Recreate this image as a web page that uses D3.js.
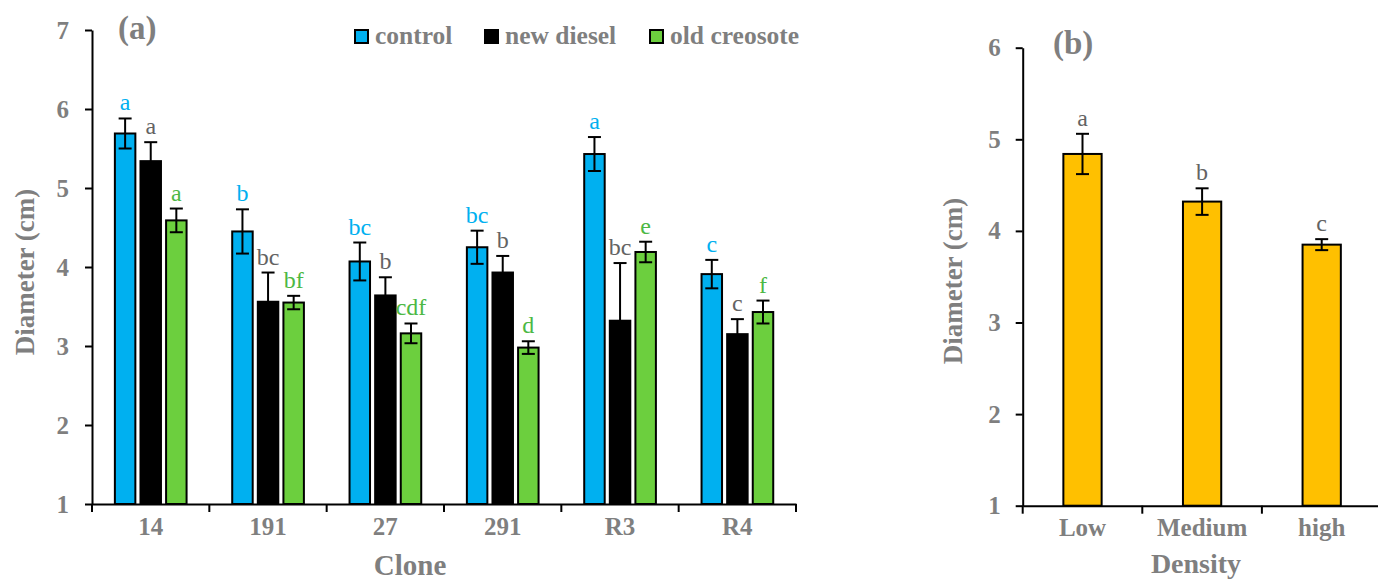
<!DOCTYPE html>
<html>
<head>
<meta charset="utf-8">
<script src="https://cdn.jsdelivr.net/npm/d3@7"></script>
<style>
  html, body { margin: 0; padding: 0; background: #fff; }
  svg { display: block; }
  text { font-family: "Liberation Serif", "Times New Roman", serif; }
</style>
</head>
<body>
<svg id="chart" width="1378" height="580"></svg>
<script>
// Panel (a): stem diameter by clone and treatment
const clones = ["14", "191", "27", "291", "R3", "R4"];
const treatments = ["control", "new diesel", "old creosote"];
const controlMean = [5.69, 4.45, 4.07, 4.25, 5.43, 3.91];
const controlErr = [0.19, 0.28, 0.24, 0.21, 0.215, 0.18];
const controlLetters = ["a", "b", "bc", "bc", "a", "c"];
const dieselMean = [5.34, 3.56, 3.64, 3.93, 3.32, 3.15];
const dieselErr = [0.24, 0.37, 0.23, 0.21, 0.73, 0.19];
const dieselLetters = ["a", "bc", "b", "b", "bc", "c"];
const creosoteMean = [4.59, 3.55, 3.16, 2.98, 4.19, 3.43];
const creosoteErr = [0.15, 0.085, 0.125, 0.08, 0.13, 0.145];
const creosoteLetters = ["a", "bf", "cdf", "d", "e", "f"];
const yTicksA = [1, 2, 3, 4, 5, 6, 7];

// Panel (b): stem diameter by planting density
const densities = ["Low", "Medium", "high"];
const densityMean = [4.84, 4.32, 3.85];
const densityErr = [0.22, 0.145, 0.06];
const densityLetters = ["a", "b", "c"];
const yTicksB = [1, 2, 3, 4, 5, 6];

const svg = d3.select("#chart");
const GREY = "#7f7f7f";
const fills = { "control": "#00b0f0", "new diesel": "#000000", "old creosote": "#6ccf3e" };
const letterColors = { "control": "#00b0f0", "new diesel": "#636363", "old creosote": "#4cb844" };

const series = [
  { key: "control", mean: controlMean, err: controlErr, letters: controlLetters },
  { key: "new diesel", mean: dieselMean, err: dieselErr, letters: dieselLetters },
  { key: "old creosote", mean: creosoteMean, err: creosoteErr, letters: creosoteLetters }
];

function styleAxis(g) {
  g.selectAll(".domain, .tick line").attr("stroke", "#000").attr("stroke-width", 2);
  g.selectAll("text")
    .attr("fill", GREY)
    .attr("font-weight", "bold")
    .attr("font-size", 25)
    .style("font-family", "'Liberation Serif', serif");
}

function errorBar(g, cx, yTop, yBot, cap) {
  g.append("line").attr("x1", cx).attr("x2", cx).attr("y1", yTop).attr("y2", yBot)
    .attr("stroke", "#000").attr("stroke-width", 2);
  [yTop, yBot].forEach(y => {
    g.append("line").attr("x1", cx - cap / 2).attr("x2", cx + cap / 2).attr("y1", y).attr("y2", y)
      .attr("stroke", "#000").attr("stroke-width", 2);
  });
}

// ---------- Panel (a) ----------
const xA = d3.scaleBand().domain(clones).range([92, 796]).padding(0);
const yA = d3.scaleLinear().domain([1, 7]).range([504, 30]);
const inner = d3.scaleBand().domain(treatments)
  .range([xA.bandwidth() * 0.195, xA.bandwidth() * 0.806])
  .paddingInner(0.2).paddingOuter(0);

const gA = svg.append("g");

series.forEach(s => {
  const g = gA.append("g");
  clones.forEach((c, i) => {
    const x0 = xA(c) + inner(s.key);
    const w = inner.bandwidth();
    g.append("rect")
      .attr("x", x0).attr("y", yA(s.mean[i]))
      .attr("width", w).attr("height", yA(1) - yA(s.mean[i]))
      .attr("fill", fills[s.key]).attr("stroke", "#000").attr("stroke-width", 2);
    const yTop = yA(s.mean[i] + s.err[i]);
    errorBar(g, x0 + w / 2, yTop, yA(s.mean[i] - s.err[i]), 13);
    g.append("text")
      .attr("x", x0 + w / 2).attr("y", yTop - 8)
      .attr("text-anchor", "middle")
      .attr("font-size", 24)
      .attr("fill", letterColors[s.key])
      .text(s.letters[i]);
  });
});

// y axis
const axA = gA.append("g").attr("transform", "translate(92,0)")
  .call(d3.axisLeft(yA).tickValues(yTicksA).tickFormat(d3.format("d")).tickSize(7).tickSizeOuter(0).tickPadding(16));
styleAxis(axA);

// x axis with ticks at category boundaries
const axXA = gA.append("g").attr("transform", "translate(0,504)")
  .call(d3.axisBottom(xA).tickSize(0).tickSizeOuter(0).tickPadding(31));
styleAxis(axXA);
axXA.selectAll("text").attr("dy", 0).attr("y", 31);
const boundsA = clones.map(c => xA(c)).concat([xA.range()[1]]);
axXA.selectAll(".bound").data(boundsA).join("line").attr("class", "bound")
  .attr("x1", d => d).attr("x2", d => d).attr("y1", 0).attr("y2", 8)
  .attr("stroke", "#000").attr("stroke-width", 2);

// titles
gA.append("text").attr("x", 118).attr("y", 39)
  .attr("font-size", 33).attr("font-weight", "bold").attr("fill", GREY).text("(a)");
gA.append("text").attr("transform", "translate(33.5,272) rotate(-90)")
  .attr("text-anchor", "middle").attr("font-size", 27).attr("font-weight", "bold")
  .attr("fill", GREY).text("Diameter (cm)");
gA.append("text").attr("x", 410).attr("y", 575).attr("text-anchor", "middle")
  .attr("font-size", 29).attr("font-weight", "bold").attr("fill", GREY).text("Clone");

// legend
const legendX = [355, 485, 650];
const legend = gA.append("g");
treatments.forEach((t, i) => {
  legend.append("rect").attr("x", legendX[i]).attr("y", 30).attr("width", 13).attr("height", 13)
    .attr("fill", fills[t]).attr("stroke", "#000").attr("stroke-width", 2);
  legend.append("text").attr("x", legendX[i] + 20).attr("y", 44)
    .attr("font-size", 25.5).attr("font-weight", "bold").attr("fill", GREY).text(t);
});

// ---------- Panel (b) ----------
const xB = d3.scaleBand().domain(densities).range([1022.7, 1381.5]).padding(0);
const yB = d3.scaleLinear().domain([1, 6]).range([505.7, 47.7]);
const gB = svg.append("g");

densities.forEach((d, i) => {
  const w = xB.bandwidth() * 0.32;
  const x0 = xB(d) + (xB.bandwidth() - w) / 2;
  gB.append("rect")
    .attr("x", x0).attr("y", yB(densityMean[i]))
    .attr("width", w).attr("height", yB(1) - yB(densityMean[i]))
    .attr("fill", "#ffc000").attr("stroke", "#000").attr("stroke-width", 2);
  const yTop = yB(densityMean[i] + densityErr[i]);
  errorBar(gB, x0 + w / 2, yTop, yB(densityMean[i] - densityErr[i]), 13);
  gB.append("text")
    .attr("x", x0 + w / 2).attr("y", yTop - 8)
    .attr("text-anchor", "middle").attr("font-size", 24).attr("fill", "#636363")
    .text(densityLetters[i]);
});

const axB = gB.append("g").attr("transform", "translate(1022.7,0)")
  .call(d3.axisLeft(yB).tickValues(yTicksB).tickFormat(d3.format("d")).tickSize(7).tickSizeOuter(0).tickPadding(15));
styleAxis(axB);

const axXB = gB.append("g").attr("transform", "translate(0,505.7)")
  .call(d3.axisBottom(xB).tickSize(0).tickSizeOuter(0).tickPadding(30));
styleAxis(axXB);
axXB.selectAll("text").attr("dy", 0).attr("y", 30.5);
const boundsB = densities.map(d => xB(d)).concat([xB.range()[1]]);
axXB.selectAll(".bound").data(boundsB).join("line").attr("class", "bound")
  .attr("x1", d => d).attr("x2", d => d).attr("y1", 0).attr("y2", 8)
  .attr("stroke", "#000").attr("stroke-width", 2);

gB.append("text").attr("x", 1053).attr("y", 54)
  .attr("font-size", 33).attr("font-weight", "bold").attr("fill", GREY).text("(b)");
gB.append("text").attr("transform", "translate(961.5,281) rotate(-90)")
  .attr("text-anchor", "middle").attr("font-size", 27).attr("font-weight", "bold")
  .attr("fill", GREY).text("Diameter (cm)");
gB.append("text").attr("x", 1196).attr("y", 573).attr("text-anchor", "middle")
  .attr("font-size", 28).attr("font-weight", "bold").attr("fill", GREY).text("Density");
</script>
</body>
</html>
